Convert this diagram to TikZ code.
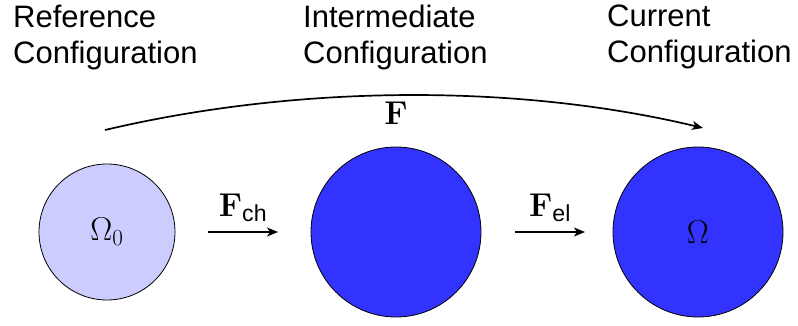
\RequirePackage{fix-cm}
\documentclass[tikz,border=0pt]{standalone}
\usepackage{amsmath,amssymb}
\usepackage[no-math]{fontspec}
\setmainfont{Liberation Sans}
\usetikzlibrary{arrows.meta, positioning}
\definecolor{reflav}{RGB}{204, 204, 255}
\definecolor{deepblue}{RGB}{51, 51, 255}
\tikzset{
  title/.style   = {anchor=north west, align=left, font=\fontsize{31}{36}\selectfont, inner sep=0pt},
  body/.style    = {circle, draw=black, line width=0.8pt, inner sep=0pt},
  bodyref/.style = {body, fill=reflav, minimum size=136pt},
  bodydef/.style = {body, fill=deepblue, minimum size=170pt},
  maplbl/.style  = {font=\fontsize{33}{36}\selectfont, inner sep=0pt},
  map/.style     = {-{Stealth[length=11pt, width=9pt, inset=3pt]}, line width=1.7pt},
}

\begin{document}
\begin{tikzpicture}[x=1pt, y=-1pt]
\useasboundingbox (0,0) rectangle (798,326);

% ===================== Titel =====================
\node[title] (t1) at ( 13, 5) {Reference\\Configuration};
\node[title] (t2) at (303, 5) {Intermediate\\Configuration};
\node[title] (t3) at (607, 5) {Current\\Configuration};

% ===================== Konfigurationen =====================
\node[bodyref] (ref)   at (107, 232) {};
\node[maplbl] (omega0) at (107, 232) {$\Omega_0$};
\node[bodydef] (inter) at (396, 232) {};
\node[bodydef] (curr)  at (698, 232) {};
\node[maplbl] (omega) at (698, 232) {$\Omega$};

% ===================== Abbildungen =====================
\coordinate (ch-a) at (208, 232);
\coordinate (ch-b) at (278, 232);
\coordinate (el-a) at (515, 232);
\coordinate (el-b) at (585, 232);
\draw[map] (ch-a) -- (ch-b) node[maplbl, midway, above=9pt] {$\mathbf{F}_{\text{ch}}$};
\draw[map] (el-a) -- (el-b) node[maplbl, midway, above=9pt] {$\mathbf{F}_{\text{el}}$};

% Gesamtabbildung
\coordinate (f-a) at (105, 130);
\coordinate (f-b) at (703, 128);
\draw[map] (f-a) .. controls (300, 84) and (520, 84) .. (f-b);
\node[maplbl] (flbl) at (396, 113) {$\mathbf{F}$};

\end{tikzpicture}
\end{document}
